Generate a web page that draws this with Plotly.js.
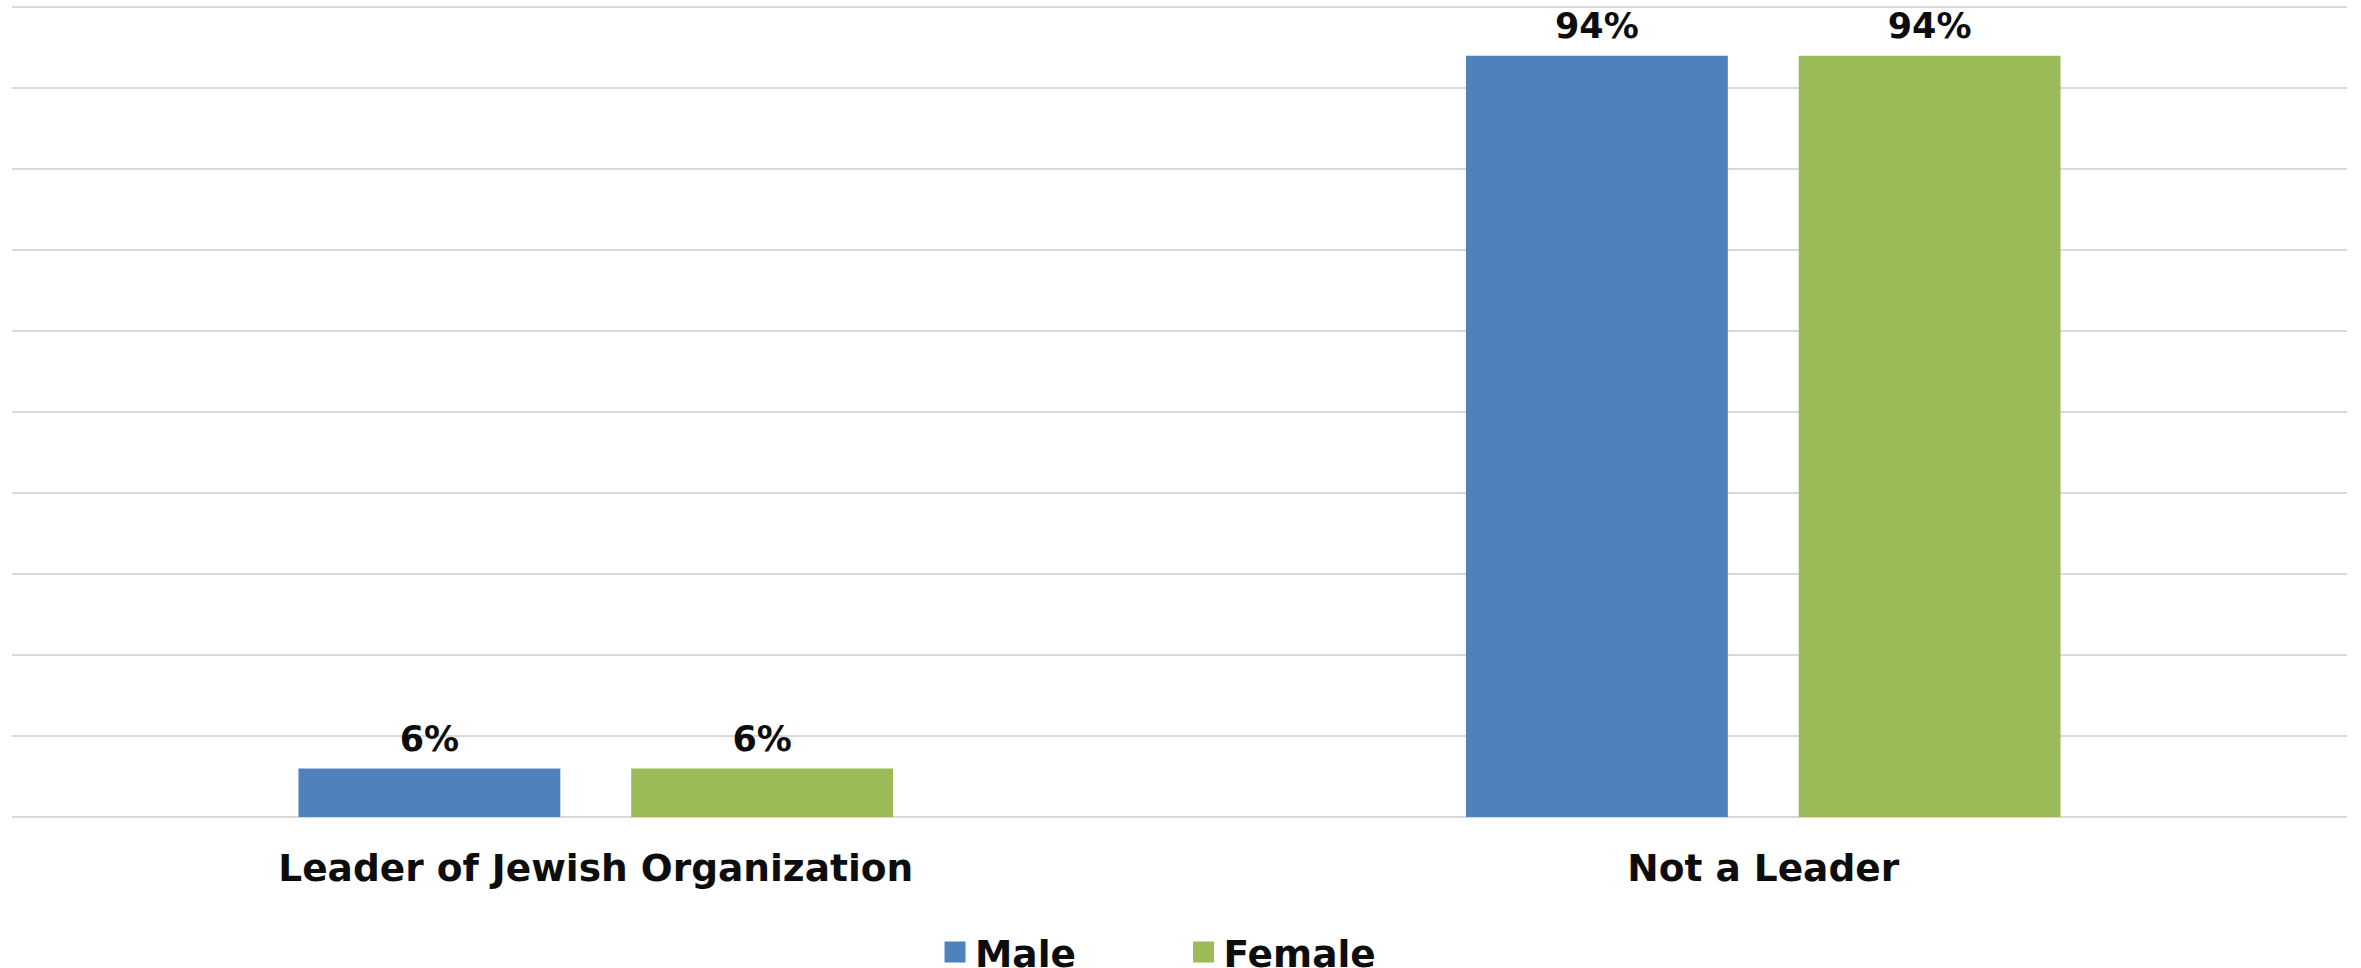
<!DOCTYPE html>
<html><head><meta charset="utf-8">
<script src="https://cdn.plot.ly/plotly-3.0.1.min.js"></script>
<style>
html,body{margin:0;padding:0;background:#fff;overflow:hidden;}
#chart{width:2361px;height:968px;}
.legend .legendpoints path{transform-box:fill-box;transform-origin:center;transform:translate(20px,0px) scale(1.75);}
</style></head><body>
<div id="chart"></div>
<script>
const categories = ['Leader of Jewish Organization', 'Not a Leader'];
const seriesNames = ['Male', 'Female'];
const maleValues = [6, 94];
const femaleValues = [6, 94];
const seriesColors = ['#4f81bd', '#9bbb59'];
const yTickValues = [0, 10, 20, 30, 40, 50, 60, 70, 80, 90, 100];

const FONT = 'DejaVu Sans, Verdana, sans-serif';
const TXT = '#0d0d0d';
const seriesValues = [maleValues, femaleValues];

const traces = [];
seriesValues.forEach((vals, i) => {
  traces.push({
    type: 'bar', x: categories, y: vals, name: seriesNames[i],
    marker: {color: seriesColors[i], line: {width: 0}},
    hoverinfo: 'skip'
  });
});
seriesValues.forEach((vals, i) => {
  traces.push({
    type: 'scatter', mode: 'markers+text', x: categories, y: vals,
    text: vals.map(v => v + '%'), textposition: 'top center',
    textfont: {family: FONT, size: 35, color: TXT, weight: 700},
    marker: {size: 12, opacity: 0}, showlegend: false, hoverinfo: 'skip',
    cliponaxis: false
  });
});

const layout = {
  width: 2361, height: 968,
  margin: {l: 12, r: 14, t: 3, b: 151, autoexpand: false},
  paper_bgcolor: '#ffffff', plot_bgcolor: '#ffffff',
  font: {family: FONT, color: TXT},
  barmode: 'group', bargap: 0.43, bargroupgap: 0.213,
  scattermode: 'group', scattergap: 0.43,
  showlegend: true,
  legend: {
    orientation: 'h', x: 0.3953, xanchor: 'left', y: -0.128, yanchor: 'top',
    font: {family: FONT, size: 37.5, color: TXT, weight: 700},
    entrywidth: 203.5, entrywidthmode: 'pixels', traceorder: 'normal',
    bgcolor: 'rgba(0,0,0,0)', borderwidth: 0
  },
  xaxis: {
    type: 'category', showgrid: false, showline: false, zeroline: false, ticks: '',
    tickfont: {family: FONT, size: 37.5, color: TXT, weight: 700}, fixedrange: true,
    ticklabelstandoff: 25
  },
  yaxis: {
    range: [0, 100.5], tickvals: yTickValues, showticklabels: false,
    showgrid: true, gridcolor: '#d9d9d9', gridwidth: 2,
    zeroline: true, zerolinecolor: '#d9d9d9', zerolinewidth: 2,
    showline: false, ticks: '', fixedrange: true
  }
};

Plotly.newPlot('chart', traces, layout, {staticPlot: true, displayModeBar: false});
</script>
</body></html>
